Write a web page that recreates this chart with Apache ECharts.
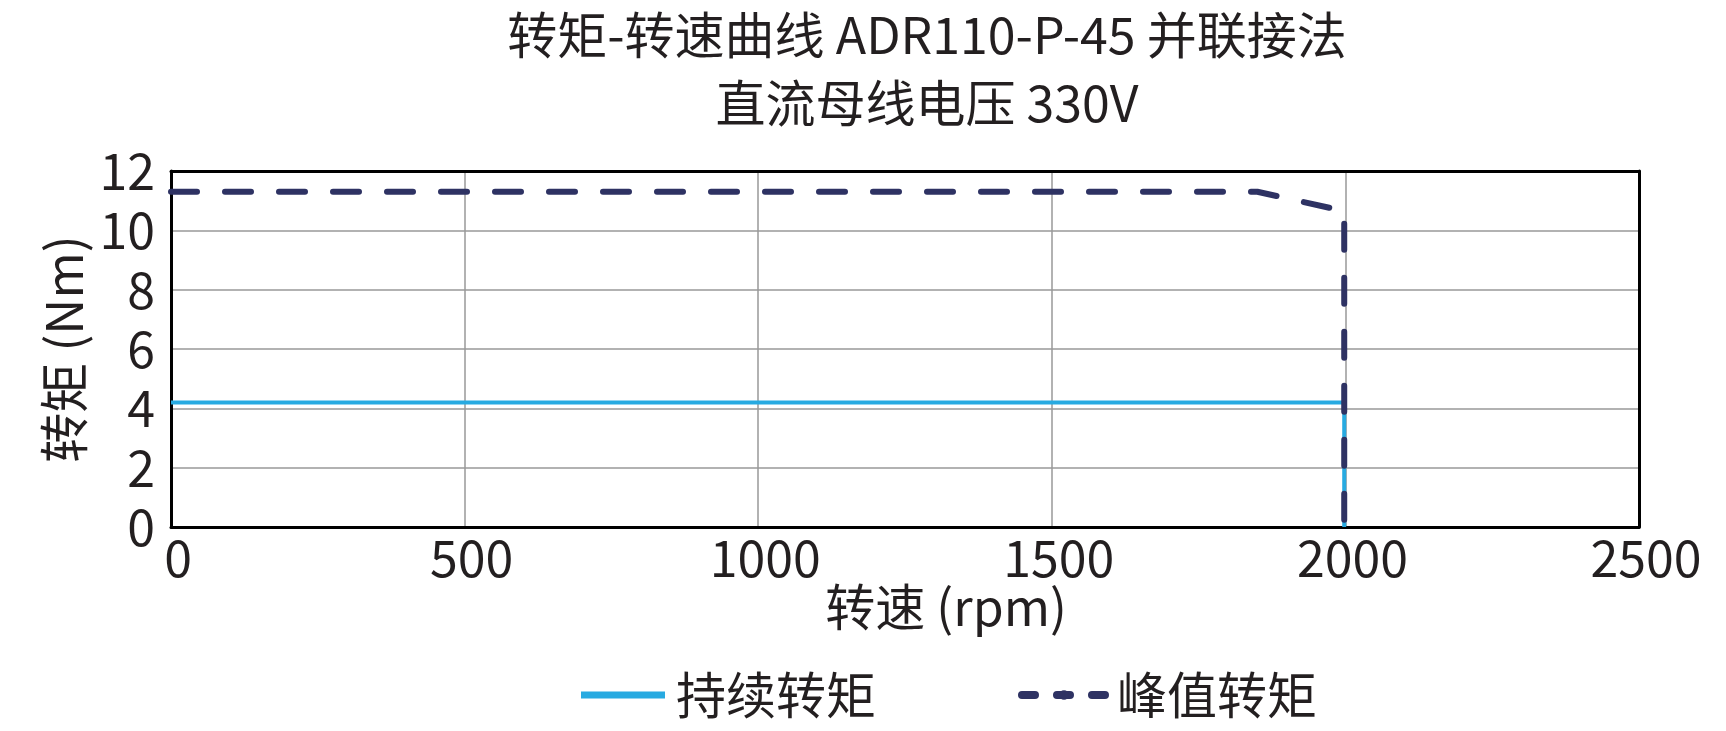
<!DOCTYPE html>
<html>
<head>
<meta charset="utf-8">
<script src="https://cdn.jsdelivr.net/npm/echarts@6/dist/echarts.min.js"></script>
<style>html,body{margin:0;padding:0;background:#fff}#c{width:1726px;height:731px}</style>
</head>
<body>
<div id="c"></div>
<script>
const titleLines = ['转矩-转速曲线 ADR110-P-45 并联接法', '直流母线电压 330V'];
const xAxisName = '转速 (rpm)';
const yAxisName = '转矩 (Nm)';
const seriesNames = ['持续转矩', '峰值转矩'];
const contRpm = [0, 1998, 1998];
const contTorque = [4.2, 4.2, 0];
const peakRpm = [0, 1850, 1998, 1998];
const peakTorque = [11.3, 11.3, 10.65, 0];
const xTicks = { min: 0, max: 2500, interval: 500 };
const yTicks = { min: 0, max: 12, interval: 2 };

const FONT = '"Noto Sans CJK SC", "Noto Sans", sans-serif';
const TXT = '#231f20';
const BLUE = '#27aae1';
const NAVY = '#2e3263';
const chart = echarts.init(document.getElementById('c'), null, { renderer: 'canvas' });
const zip = (a, b) => a.map((v, i) => [v, b[i]]);
const frameAxis = (pos) => ({
  type: 'value', position: pos, min: 0, max: 1, interval: 1, z: 5,
  axisLine: { show: true, onZero: false, lineStyle: { color: '#000', width: 3 } },
  axisTick: { show: false }, axisLabel: { show: false }, splitLine: { show: false }
});
chart.setOption({
  animation: false,
  backgroundColor: '#fff',
  textStyle: { fontFamily: FONT },
  title: [
    { text: titleLines.join('\n'), left: 922, top: -4, textAlign: 'center',
      textStyle: { fontFamily: FONT, fontSize: 50, fontWeight: 'normal', color: TXT, lineHeight: 68 } },
    { text: xAxisName, left: 941, top: 572, textAlign: 'center',
      textStyle: { fontFamily: FONT, fontSize: 50, fontWeight: 'normal', color: TXT, lineHeight: 60 } }
  ],
  grid: { left: 171, right: 87, top: 171, bottom: 204, show: false },
  legend: {
    bottom: 6, left: 576,
    itemWidth: 84, itemHeight: 12, itemGap: 142,
    textStyle: { fontFamily: FONT, fontSize: 50, color: TXT, padding: [0, 0, 0, 6] },
    data: [
      { name: seriesNames[0], icon: 'path://M0,0H84V7H0Z' },
      { name: seriesNames[1], lineStyle: { color: NAVY, width: 8, type: [13, 22], cap: 'round' } }
    ]
  },
  xAxis: [{
    type: 'value', min: xTicks.min, max: xTicks.max, interval: xTicks.interval,
    axisLine: { show: true, onZero: false, lineStyle: { color: '#000', width: 3 } },
    axisTick: { show: false },
    axisLabel: { fontFamily: FONT, fontSize: 50, color: TXT, margin: 6, padding: [0, 0, 0, 14],
      formatter: v => String(v) },
    splitLine: { show: true, lineStyle: { color: '#999', width: 1.5 } }
  }, frameAxis('top')],
  yAxis: [{
    type: 'value', min: yTicks.min, max: yTicks.max, interval: yTicks.interval,
    name: yAxisName, nameLocation: 'middle', nameRotate: 90, nameGap: 78,
    nameTextStyle: { fontFamily: FONT, fontSize: 50, color: TXT },
    axisLine: { show: true, onZero: false, lineStyle: { color: '#000', width: 3 } },
    axisTick: { show: false },
    axisLabel: { fontFamily: FONT, fontSize: 50, color: TXT, margin: 16, padding: [0, 0, 16, 0] },
    splitLine: { show: true, lineStyle: { color: '#999', width: 1.5 } }
  }, frameAxis('right')],
  series: [
    { name: seriesNames[0], type: 'line', data: zip(contRpm, contTorque), symbol: 'none',
      color: BLUE, lineStyle: { color: BLUE, width: 4 }, z: 2 },
    { name: seriesNames[1], type: 'line', data: zip(peakRpm, peakTorque), symbol: 'none',
      color: NAVY, lineStyle: { color: NAVY, width: 6, type: [26, 28], cap: 'round', join: 'round' }, z: 3 }
  ]
});
</script>
</body>
</html>
